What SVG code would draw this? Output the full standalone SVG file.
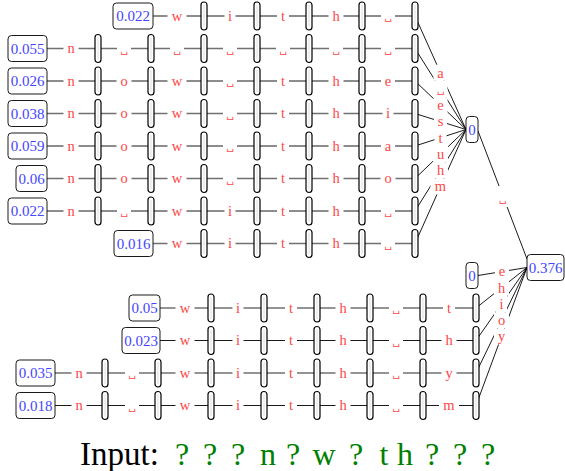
<svg xmlns="http://www.w3.org/2000/svg" xmlns:xlink="http://www.w3.org/1999/xlink" width="565" height="471" viewBox="0 0 565 471">
<style>
.bx{fill:#fff;stroke:#000;stroke-width:0.9}
.num{font-family:"Liberation Serif","DejaVu Serif",serif;font-size:15px;fill:#4545ff;text-anchor:middle}
.l{font-family:"Liberation Serif","DejaVu Serif",serif;font-size:14.5px;fill:#ff4545;text-anchor:middle}
.sp{font-size:10px}
.lb{fill:#fff;stroke:none}
.k{stroke:#000;stroke-width:0.9;fill:none}
.g{stroke:#707070;stroke-width:1.6;fill:none}
.in{font-family:"Liberation Serif","DejaVu Serif",serif;font-size:33px;fill:#000}
.q{font-family:"Liberation Serif","DejaVu Serif",serif;font-size:32px;fill:#008000;text-anchor:middle}
</style>
<defs>
<g id="pill"><rect x="-3" y="-14" width="6" height="28" rx="3" fill="#fff" stroke="#000" stroke-width="1.2"/><line x1="0" y1="-11" x2="0" y2="11" stroke="#c8c8c8" stroke-width="0.6"/></g>
</defs>
<g id="connectors">
<line class="k" x1="153" y1="16" x2="415" y2="16"/>
<line class="g" x1="47" y1="48.5" x2="415" y2="48.5"/>
<line class="k" x1="47" y1="81" x2="415" y2="81"/>
<line class="g" x1="47" y1="113.5" x2="415" y2="113.5"/>
<line class="k" x1="47" y1="146" x2="415" y2="146"/>
<line class="g" x1="47" y1="178.5" x2="415" y2="178.5"/>
<line class="k" x1="47" y1="211" x2="415" y2="211"/>
<line class="g" x1="153" y1="243.5" x2="415" y2="243.5"/>
<line class="k" x1="415" y1="16" x2="466" y2="129.5"/>
<line class="k" x1="415" y1="48.5" x2="466" y2="129.5"/>
<line class="k" x1="415" y1="81" x2="466" y2="129.5"/>
<line class="k" x1="415" y1="113.5" x2="466" y2="129.5"/>
<line class="k" x1="415" y1="146" x2="466" y2="129.5"/>
<line class="k" x1="415" y1="178.5" x2="466" y2="129.5"/>
<line class="k" x1="415" y1="211" x2="466" y2="129.5"/>
<line class="k" x1="415" y1="243.5" x2="466" y2="129.5"/>
<line class="k" x1="478" y1="131" x2="527" y2="259"/>
<line class="g" x1="160" y1="308" x2="476" y2="308"/>
<line class="k" x1="160" y1="340.5" x2="476" y2="340.5"/>
<line class="g" x1="55" y1="373" x2="476" y2="373"/>
<line class="k" x1="55" y1="405.5" x2="476" y2="405.5"/>
<line class="k" x1="478" y1="275.5" x2="527" y2="267.5"/>
<line class="k" x1="476" y1="308" x2="527" y2="267.5"/>
<line class="k" x1="476" y1="340.5" x2="527" y2="267.5"/>
<line class="k" x1="476" y1="373" x2="527" y2="267.5"/>
<line class="k" x1="476" y1="405.5" x2="527" y2="267.5"/>
</g>
<g id="edge-labels">
<!-- R0 y=16 -->
<rect class="lb" x="167.5" y="8" width="19" height="16"/><text class="l" x="177" y="20.7">w</text>
<rect class="lb" x="224.5" y="8" width="11" height="16"/><text class="l" x="230" y="20.7">i</text>
<rect class="lb" x="277" y="8" width="12" height="16"/><text class="l" x="283" y="20.7">t</text>
<rect class="lb" x="328.5" y="8" width="15" height="16"/><text class="l" x="336" y="20.7">h</text>
<rect class="lb" x="381" y="8" width="14" height="16"/><text class="l sp" x="388" y="20">␣</text>
<!-- R1 y=48.5 -->
<rect class="lb" x="63.5" y="40.5" width="15" height="16"/><text class="l" x="71" y="53.2">n</text>
<rect class="lb" x="117" y="40.5" width="14" height="16"/><text class="l sp" x="124" y="52.5">␣</text>
<rect class="lb" x="170" y="40.5" width="14" height="16"/><text class="l sp" x="177" y="52.5">␣</text>
<rect class="lb" x="223" y="40.5" width="14" height="16"/><text class="l sp" x="230" y="52.5">␣</text>
<rect class="lb" x="276" y="40.5" width="14" height="16"/><text class="l sp" x="283" y="52.5">␣</text>
<rect class="lb" x="329" y="40.5" width="14" height="16"/><text class="l sp" x="336" y="52.5">␣</text>
<rect class="lb" x="381" y="40.5" width="14" height="16"/><text class="l sp" x="388" y="52.5">␣</text>
<!-- R2 y=81 -->
<rect class="lb" x="63.5" y="73" width="15" height="16"/><text class="l" x="71" y="85.7">n</text>
<rect class="lb" x="116.5" y="73" width="15" height="16"/><text class="l" x="124" y="85.7">o</text>
<rect class="lb" x="167.5" y="73" width="19" height="16"/><text class="l" x="177" y="85.7">w</text>
<rect class="lb" x="223" y="73" width="14" height="16"/><text class="l sp" x="230" y="85">␣</text>
<rect class="lb" x="277" y="73" width="12" height="16"/><text class="l" x="283" y="85.7">t</text>
<rect class="lb" x="328.5" y="73" width="15" height="16"/><text class="l" x="336" y="85.7">h</text>
<rect class="lb" x="381" y="73" width="14" height="16"/><text class="l" x="388" y="85.7">e</text>
<!-- R3 y=113.5 -->
<rect class="lb" x="63.5" y="105.5" width="15" height="16"/><text class="l" x="71" y="118.2">n</text>
<rect class="lb" x="116.5" y="105.5" width="15" height="16"/><text class="l" x="124" y="118.2">o</text>
<rect class="lb" x="167.5" y="105.5" width="19" height="16"/><text class="l" x="177" y="118.2">w</text>
<rect class="lb" x="223" y="105.5" width="14" height="16"/><text class="l sp" x="230" y="117.5">␣</text>
<rect class="lb" x="277" y="105.5" width="12" height="16"/><text class="l" x="283" y="118.2">t</text>
<rect class="lb" x="328.5" y="105.5" width="15" height="16"/><text class="l" x="336" y="118.2">h</text>
<rect class="lb" x="382.5" y="105.5" width="11" height="16"/><text class="l" x="388" y="118.2">i</text>
<!-- R4 y=146 -->
<rect class="lb" x="63.5" y="138" width="15" height="16"/><text class="l" x="71" y="150.7">n</text>
<rect class="lb" x="116.5" y="138" width="15" height="16"/><text class="l" x="124" y="150.7">o</text>
<rect class="lb" x="167.5" y="138" width="19" height="16"/><text class="l" x="177" y="150.7">w</text>
<rect class="lb" x="223" y="138" width="14" height="16"/><text class="l sp" x="230" y="150">␣</text>
<rect class="lb" x="277" y="138" width="12" height="16"/><text class="l" x="283" y="150.7">t</text>
<rect class="lb" x="328.5" y="138" width="15" height="16"/><text class="l" x="336" y="150.7">h</text>
<rect class="lb" x="381" y="138" width="14" height="16"/><text class="l" x="388" y="150.7">a</text>
<!-- R5 y=178.5 -->
<rect class="lb" x="63.5" y="170.5" width="15" height="16"/><text class="l" x="71" y="183.2">n</text>
<rect class="lb" x="116.5" y="170.5" width="15" height="16"/><text class="l" x="124" y="183.2">o</text>
<rect class="lb" x="167.5" y="170.5" width="19" height="16"/><text class="l" x="177" y="183.2">w</text>
<rect class="lb" x="223" y="170.5" width="14" height="16"/><text class="l sp" x="230" y="182.5">␣</text>
<rect class="lb" x="277" y="170.5" width="12" height="16"/><text class="l" x="283" y="183.2">t</text>
<rect class="lb" x="328.5" y="170.5" width="15" height="16"/><text class="l" x="336" y="183.2">h</text>
<rect class="lb" x="380.5" y="170.5" width="15" height="16"/><text class="l" x="388" y="183.2">o</text>
<!-- R6 y=211 -->
<rect class="lb" x="63.5" y="203" width="15" height="16"/><text class="l" x="71" y="215.7">n</text>
<rect class="lb" x="117" y="203" width="14" height="16"/><text class="l sp" x="124" y="215">␣</text>
<rect class="lb" x="167.5" y="203" width="19" height="16"/><text class="l" x="177" y="215.7">w</text>
<rect class="lb" x="224.5" y="203" width="11" height="16"/><text class="l" x="230" y="215.7">i</text>
<rect class="lb" x="277" y="203" width="12" height="16"/><text class="l" x="283" y="215.7">t</text>
<rect class="lb" x="328.5" y="203" width="15" height="16"/><text class="l" x="336" y="215.7">h</text>
<rect class="lb" x="381" y="203" width="14" height="16"/><text class="l sp" x="388" y="215">␣</text>
<!-- R7 y=243.5 -->
<rect class="lb" x="167.5" y="235.5" width="19" height="16"/><text class="l" x="177" y="248.2">w</text>
<rect class="lb" x="224.5" y="235.5" width="11" height="16"/><text class="l" x="230" y="248.2">i</text>
<rect class="lb" x="277" y="235.5" width="12" height="16"/><text class="l" x="283" y="248.2">t</text>
<rect class="lb" x="328.5" y="235.5" width="15" height="16"/><text class="l" x="336" y="248.2">h</text>
<rect class="lb" x="381" y="235.5" width="14" height="16"/><text class="l sp" x="388" y="247.5">␣</text>
<!-- top fan labels -->
<rect class="lb" x="433.5" y="64.75" width="14" height="16"/><text class="l" x="440.5" y="77.5">a</text>
<rect class="lb" x="433.5" y="81" width="14" height="16"/><text class="l sp" x="440.5" y="93">␣</text>
<rect class="lb" x="433.5" y="97.25" width="14" height="16"/><text class="l" x="440.5" y="110">e</text>
<rect class="lb" x="434" y="113.5" width="13" height="16"/><text class="l" x="440.5" y="126.2">s</text>
<rect class="lb" x="434.5" y="129.75" width="12" height="16"/><text class="l" x="440.5" y="142.5">t</text>
<rect class="lb" x="433" y="146" width="15" height="16"/><text class="l" x="440.5" y="158.7">u</text>
<rect class="lb" x="433" y="162.25" width="15" height="16"/><text class="l" x="440.5" y="175">h</text>
<rect class="lb" x="430.5" y="178.5" width="20" height="16"/><text class="l" x="440.5" y="191.2">m</text>
<!-- 0 to 0.376 -->
<rect class="lb" x="495.5" y="186" width="14" height="21"/><text class="l sp" x="502.5" y="202">␣</text>
<!-- B0 y=308 -->
<rect class="lb" x="175.5" y="300" width="19" height="16"/><text class="l" x="185" y="312.7">w</text>
<rect class="lb" x="232.5" y="300" width="11" height="16"/><text class="l" x="238" y="312.7">i</text>
<rect class="lb" x="285" y="300" width="12" height="16"/><text class="l" x="291" y="312.7">t</text>
<rect class="lb" x="335.5" y="300" width="15" height="16"/><text class="l" x="343" y="312.7">h</text>
<rect class="lb" x="389" y="300" width="14" height="16"/><text class="l sp" x="396" y="312">␣</text>
<rect class="lb" x="443" y="300" width="12" height="16"/><text class="l" x="449" y="312.7">t</text>
<!-- B1 y=340.5 -->
<rect class="lb" x="175.5" y="332.5" width="19" height="16"/><text class="l" x="185" y="345.2">w</text>
<rect class="lb" x="232.5" y="332.5" width="11" height="16"/><text class="l" x="238" y="345.2">i</text>
<rect class="lb" x="285" y="332.5" width="12" height="16"/><text class="l" x="291" y="345.2">t</text>
<rect class="lb" x="335.5" y="332.5" width="15" height="16"/><text class="l" x="343" y="345.2">h</text>
<rect class="lb" x="389" y="332.5" width="14" height="16"/><text class="l sp" x="396" y="344.5">␣</text>
<rect class="lb" x="441.5" y="332.5" width="15" height="16"/><text class="l" x="449" y="345.2">h</text>
<!-- B2 y=373 -->
<rect class="lb" x="71.5" y="365" width="15" height="16"/><text class="l" x="79" y="377.7">n</text>
<rect class="lb" x="125" y="365" width="14" height="16"/><text class="l sp" x="132" y="377">␣</text>
<rect class="lb" x="175.5" y="365" width="19" height="16"/><text class="l" x="185" y="377.7">w</text>
<rect class="lb" x="232.5" y="365" width="11" height="16"/><text class="l" x="238" y="377.7">i</text>
<rect class="lb" x="285" y="365" width="12" height="16"/><text class="l" x="291" y="377.7">t</text>
<rect class="lb" x="335.5" y="365" width="15" height="16"/><text class="l" x="343" y="377.7">h</text>
<rect class="lb" x="389" y="365" width="14" height="16"/><text class="l sp" x="396" y="377">␣</text>
<rect class="lb" x="441.5" y="365" width="15" height="16"/><text class="l" x="449" y="377.7">y</text>
<!-- B3 y=405.5 -->
<rect class="lb" x="71.5" y="397.5" width="15" height="16"/><text class="l" x="79" y="410.2">n</text>
<rect class="lb" x="125" y="397.5" width="14" height="16"/><text class="l sp" x="132" y="409.5">␣</text>
<rect class="lb" x="175.5" y="397.5" width="19" height="16"/><text class="l" x="185" y="410.2">w</text>
<rect class="lb" x="232.5" y="397.5" width="11" height="16"/><text class="l" x="238" y="410.2">i</text>
<rect class="lb" x="285" y="397.5" width="12" height="16"/><text class="l" x="291" y="410.2">t</text>
<rect class="lb" x="335.5" y="397.5" width="15" height="16"/><text class="l" x="343" y="410.2">h</text>
<rect class="lb" x="389" y="397.5" width="14" height="16"/><text class="l sp" x="396" y="409.5">␣</text>
<rect class="lb" x="439" y="397.5" width="20" height="16"/><text class="l" x="449" y="410.2">m</text>
<!-- bottom fan labels -->
<rect class="lb" x="495" y="263.5" width="14" height="16"/><text class="l" x="502" y="276.2">e</text>
<rect class="lb" x="494" y="279.75" width="15" height="16"/><text class="l" x="501.5" y="292.5">h</text>
<rect class="lb" x="496" y="296" width="11" height="16"/><text class="l" x="501.5" y="308.7">i</text>
<rect class="lb" x="494" y="312.25" width="15" height="16"/><text class="l" x="501.5" y="325">o</text>
<rect class="lb" x="494" y="328.5" width="15" height="16"/><text class="l" x="501.5" y="341.2">y</text>
</g>
<g id="pills-top">
<use id="p0-1" href="#pill" x="204" y="16"/><use id="p0-2" href="#pill" x="257" y="16"/><use id="p0-3" href="#pill" x="309" y="16"/><use id="p0-4" href="#pill" x="362" y="16"/><use id="p0-5" href="#pill" x="415" y="16"/>
<use id="p1-1" href="#pill" x="98" y="48.5"/><use id="p1-2" href="#pill" x="151" y="48.5"/><use id="p1-3" href="#pill" x="204" y="48.5"/><use id="p1-4" href="#pill" x="257" y="48.5"/><use id="p1-5" href="#pill" x="309" y="48.5"/><use id="p1-6" href="#pill" x="362" y="48.5"/><use id="p1-7" href="#pill" x="415" y="48.5"/>
<use id="p2-1" href="#pill" x="98" y="81"/><use id="p2-2" href="#pill" x="151" y="81"/><use id="p2-3" href="#pill" x="204" y="81"/><use id="p2-4" href="#pill" x="257" y="81"/><use id="p2-5" href="#pill" x="309" y="81"/><use id="p2-6" href="#pill" x="362" y="81"/><use id="p2-7" href="#pill" x="415" y="81"/>
<use id="p3-1" href="#pill" x="98" y="113.5"/><use id="p3-2" href="#pill" x="151" y="113.5"/><use id="p3-3" href="#pill" x="204" y="113.5"/><use id="p3-4" href="#pill" x="257" y="113.5"/><use id="p3-5" href="#pill" x="309" y="113.5"/><use id="p3-6" href="#pill" x="362" y="113.5"/><use id="p3-7" href="#pill" x="415" y="113.5"/>
<use id="p4-1" href="#pill" x="98" y="146"/><use id="p4-2" href="#pill" x="151" y="146"/><use id="p4-3" href="#pill" x="204" y="146"/><use id="p4-4" href="#pill" x="257" y="146"/><use id="p4-5" href="#pill" x="309" y="146"/><use id="p4-6" href="#pill" x="362" y="146"/><use id="p4-7" href="#pill" x="415" y="146"/>
<use id="p5-1" href="#pill" x="98" y="178.5"/><use id="p5-2" href="#pill" x="151" y="178.5"/><use id="p5-3" href="#pill" x="204" y="178.5"/><use id="p5-4" href="#pill" x="257" y="178.5"/><use id="p5-5" href="#pill" x="309" y="178.5"/><use id="p5-6" href="#pill" x="362" y="178.5"/><use id="p5-7" href="#pill" x="415" y="178.5"/>
<use id="p6-1" href="#pill" x="98" y="211"/><use id="p6-2" href="#pill" x="151" y="211"/><use id="p6-3" href="#pill" x="204" y="211"/><use id="p6-4" href="#pill" x="257" y="211"/><use id="p6-5" href="#pill" x="309" y="211"/><use id="p6-6" href="#pill" x="362" y="211"/><use id="p6-7" href="#pill" x="415" y="211"/>
<use id="p7-1" href="#pill" x="204" y="243.5"/><use id="p7-2" href="#pill" x="257" y="243.5"/><use id="p7-3" href="#pill" x="309" y="243.5"/><use id="p7-4" href="#pill" x="362" y="243.5"/><use id="p7-5" href="#pill" x="415" y="243.5"/>
</g>
<g id="pills-bottom">
<use id="q0-1" href="#pill" x="211" y="308"/><use id="q0-2" href="#pill" x="264" y="308"/><use id="q0-3" href="#pill" x="317" y="308"/><use id="q0-4" href="#pill" x="370" y="308"/><use id="q0-5" href="#pill" x="423" y="308"/><use id="q0-6" href="#pill" x="476" y="308"/>
<use id="q1-1" href="#pill" x="211" y="340.5"/><use id="q1-2" href="#pill" x="264" y="340.5"/><use id="q1-3" href="#pill" x="317" y="340.5"/><use id="q1-4" href="#pill" x="370" y="340.5"/><use id="q1-5" href="#pill" x="423" y="340.5"/><use id="q1-6" href="#pill" x="476" y="340.5"/>
<use id="q2-1" href="#pill" x="105" y="373"/><use id="q2-2" href="#pill" x="158" y="373"/><use id="q2-3" href="#pill" x="211" y="373"/><use id="q2-4" href="#pill" x="264" y="373"/><use id="q2-5" href="#pill" x="317" y="373"/><use id="q2-6" href="#pill" x="370" y="373"/><use id="q2-7" href="#pill" x="423" y="373"/><use id="q2-8" href="#pill" x="476" y="373"/>
<use id="q3-1" href="#pill" x="105" y="405.5"/><use id="q3-2" href="#pill" x="158" y="405.5"/><use id="q3-3" href="#pill" x="211" y="405.5"/><use id="q3-4" href="#pill" x="264" y="405.5"/><use id="q3-5" href="#pill" x="317" y="405.5"/><use id="q3-6" href="#pill" x="370" y="405.5"/><use id="q3-7" href="#pill" x="423" y="405.5"/><use id="q3-8" href="#pill" x="476" y="405.5"/>
</g>
<g id="n-r0"><rect class="bx" x="113" y="3" width="40" height="26" rx="3.5"/><text class="num" x="133" y="21.2">0.022</text></g>
<g id="n-r1"><rect class="bx" x="8" y="35.5" width="39" height="26" rx="3.5"/><text class="num" x="27.5" y="53.7">0.055</text></g>
<g id="n-r2"><rect class="bx" x="8" y="68" width="39" height="26" rx="3.5"/><text class="num" x="27.5" y="86.2">0.026</text></g>
<g id="n-r3"><rect class="bx" x="8" y="100.5" width="39" height="26" rx="3.5"/><text class="num" x="27.5" y="118.7">0.038</text></g>
<g id="n-r4"><rect class="bx" x="8" y="133" width="39" height="26" rx="3.5"/><text class="num" x="27.5" y="151.2">0.059</text></g>
<g id="n-r5"><rect class="bx" x="16" y="165.5" width="31" height="26" rx="3.5"/><text class="num" x="31.5" y="183.7">0.06</text></g>
<g id="n-r6"><rect class="bx" x="8" y="198" width="39" height="26" rx="3.5"/><text class="num" x="27.5" y="216.2">0.022</text></g>
<g id="n-r7"><rect class="bx" x="114" y="230.5" width="39" height="26" rx="3.5"/><text class="num" x="133.5" y="248.7">0.016</text></g>
<g id="n-top0"><rect class="bx" x="466" y="116.5" width="12" height="26" rx="3.5"/><text class="num" x="472" y="134.7">0</text></g>
<g id="n-root"><rect class="bx" x="527" y="254.5" width="37" height="26" rx="3.5"/><text class="num" x="545.5" y="272.7">0.376</text></g>
<g id="n-bot0"><rect class="bx" x="466" y="262.5" width="12" height="26" rx="3.5"/><text class="num" x="472" y="280.7">0</text></g>
<g id="n-b0"><rect class="bx" x="129" y="295" width="31" height="26" rx="3.5"/><text class="num" x="144.5" y="313.2">0.05</text></g>
<g id="n-b1"><rect class="bx" x="122" y="327.5" width="38" height="26" rx="3.5"/><text class="num" x="141" y="345.7">0.023</text></g>
<g id="n-b2"><rect class="bx" x="16" y="360" width="39" height="26" rx="3.5"/><text class="num" x="35.5" y="378.2">0.035</text></g>
<g id="n-b3"><rect class="bx" x="16" y="392.5" width="39" height="26" rx="3.5"/><text class="num" x="35.5" y="410.7">0.018</text></g>
<g id="input">
<text class="in" x="80" y="465">Input:</text>
<text class="q" x="182" y="465">?</text><text class="q" x="210" y="465">?</text><text class="q" x="238" y="465">?</text><text class="q" x="268" y="465">n</text><text class="q" x="293" y="465">?</text><text class="q" x="324" y="465">w</text><text class="q" x="356" y="465">?</text><text class="q" x="384" y="465">t</text><text class="q" x="405" y="465">h</text><text class="q" x="432" y="465">?</text><text class="q" x="460" y="465">?</text><text class="q" x="488" y="465">?</text>
</g>
</svg>
